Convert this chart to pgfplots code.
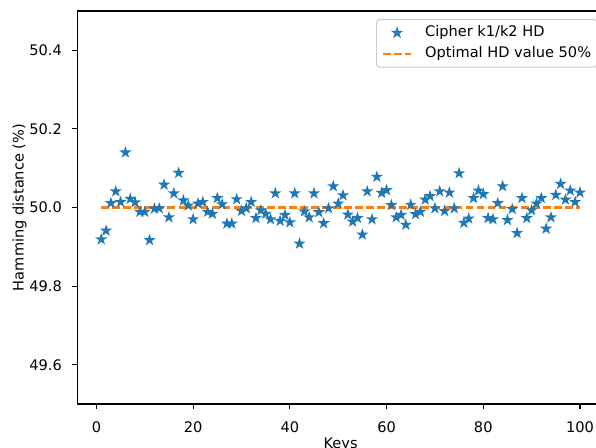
\documentclass[border=0pt]{standalone}
\usepackage{fontspec}
\setmainfont{DejaVu Sans}
\usepackage{pgfplots}
\pgfplotsset{compat=1.18}

\definecolor{tabblue}{RGB}{31,119,180}
\definecolor{taborange}{RGB}{255,127,14}
\definecolor{legframe}{RGB}{204,204,204}

% filled five-point star, like matplotlib's '*'
\pgfdeclareplotmark{fstar}{%
  \pgfpathmoveto{\pgfpointpolar{90}{\pgfplotmarksize}}%
  \pgfpathlineto{\pgfpointpolar{126}{0.382\pgfplotmarksize}}%
  \pgfpathlineto{\pgfpointpolar{162}{\pgfplotmarksize}}%
  \pgfpathlineto{\pgfpointpolar{198}{0.382\pgfplotmarksize}}%
  \pgfpathlineto{\pgfpointpolar{234}{\pgfplotmarksize}}%
  \pgfpathlineto{\pgfpointpolar{270}{0.382\pgfplotmarksize}}%
  \pgfpathlineto{\pgfpointpolar{306}{\pgfplotmarksize}}%
  \pgfpathlineto{\pgfpointpolar{342}{0.382\pgfplotmarksize}}%
  \pgfpathlineto{\pgfpointpolar{18}{\pgfplotmarksize}}%
  \pgfpathlineto{\pgfpointpolar{54}{0.382\pgfplotmarksize}}%
  \pgfpathclose
  \pgfusepathqfillstroke
}

\newcommand{\mplfont}{\fontsize{10.5pt}{12pt}\selectfont}

\pgfplotstableread{
k hd
1 49.919
2 49.941
3 50.011
4 50.041
5 50.014
6 50.140
7 50.022
8 50.013
9 49.989
10 49.989
11 49.917
12 49.997
13 49.998
14 50.058
15 49.975
16 50.036
17 50.088
18 50.018
19 50.005
20 49.970
21 50.010
22 50.014
23 49.989
24 49.984
25 50.024
26 50.008
27 49.959
28 49.959
29 50.021
30 49.991
31 49.998
32 50.014
33 49.973
34 49.993
35 49.984
36 49.970
37 50.036
38 49.966
39 49.981
40 49.962
41 50.036
42 49.908
43 49.990
44 49.975
45 50.036
46 49.988
47 49.960
48 49.998
49 50.054
50 50.010
51 50.031
52 49.982
53 49.964
54 49.973
55 49.931
56 50.041
57 49.970
58 50.078
59 50.037
60 50.044
61 50.006
62 49.975
63 49.981
64 49.956
65 50.007
66 49.983
67 49.989
68 50.020
69 50.029
70 49.998
71 50.041
72 49.991
73 50.038
74 49.998
75 50.087
76 49.961
77 49.972
78 50.024
79 50.043
80 50.034
81 49.973
82 49.970
83 50.011
84 50.054
85 49.968
86 49.996
87 49.935
88 50.024
89 49.973
90 49.993
91 50.010
92 50.024
93 49.946
94 49.975
95 50.032
96 50.060
97 50.020
98 50.043
99 50.014
100 50.038
}\hdtable

\begin{document}
\begin{tikzpicture}
% the reference is cropped on the right and at the bottom
\useasboundingbox (-55.66pt,-30.96pt) rectangle (373.46pt,290.88pt);
\begin{axis}[
  scale only axis,
  at={(0pt,0pt)}, anchor=south west,
  width=379.15pt,
  height=282.96pt,
  xmin=-3.95, xmax=104.95,
  ymin=49.5, ymax=50.5,
  xtick={0,20,40,60,80,100},
  ytick={49.6,49.8,50.0,50.2,50.4},
  /pgf/number format/assume math mode=true,
  tick label style={font=\mplfont, inner sep=0pt},
  xticklabel style={anchor=north, yshift=-9.1pt},
  yticklabel style={anchor=east, xshift=-7.4pt,
    /pgf/number format/fixed, /pgf/number format/fixed zerofill,
    /pgf/number format/precision=1},
  tick align=outside,
  tick pos=left,
  major tick length=3.5pt,
  tick style={line width=0.8pt, black},
  axis line style={line width=0.8pt},
  xlabel={Keys},
  ylabel={Hamming distance (\%)},
  every axis x label/.style={at={(axis description cs:0.5,0)}, anchor=north, yshift=-24.5pt, inner sep=0pt, font=\mplfont},
  every axis y label/.style={at={(axis description cs:-0.1097,0.5)}, anchor=center, rotate=90, inner sep=0pt, font=\mplfont},
  legend style={at={(rel axis cs:1,1)}, anchor=north east, xshift=-4.8pt, yshift=-5.8pt,
    draw=legframe, line width=0.8pt, rounded corners=2pt, fill=white, fill opacity=0.8, text opacity=1,
    font=\mplfont, inner xsep=4pt, inner ysep=4.3pt, row sep=4.6pt,
    nodes={inner sep=0pt, text height=7.9pt, text depth=2.6pt},
    /tikz/every odd column/.append style={column sep=9.4pt}},
  legend cell align=left,
  legend image code/.code={\draw[mark repeat=2,mark phase=2,#1] plot coordinates {(0pt,0pt) (10pt,0pt) (20pt,0pt)};},
]
\addplot[only marks, mark=fstar, mark size=3pt, color=tabblue, mark options={line width=1pt}] table[x=k, y=hd] {\hdtable};
\addlegendentry{Cipher k1/k2 HD}
\addplot[taborange, line width=1.5pt, dash pattern=on 5.55pt off 2.4pt] coordinates {(1,50) (100,50)};
\addlegendentry{Optimal HD value 50\%}
\end{axis}
\end{tikzpicture}
\end{document}
